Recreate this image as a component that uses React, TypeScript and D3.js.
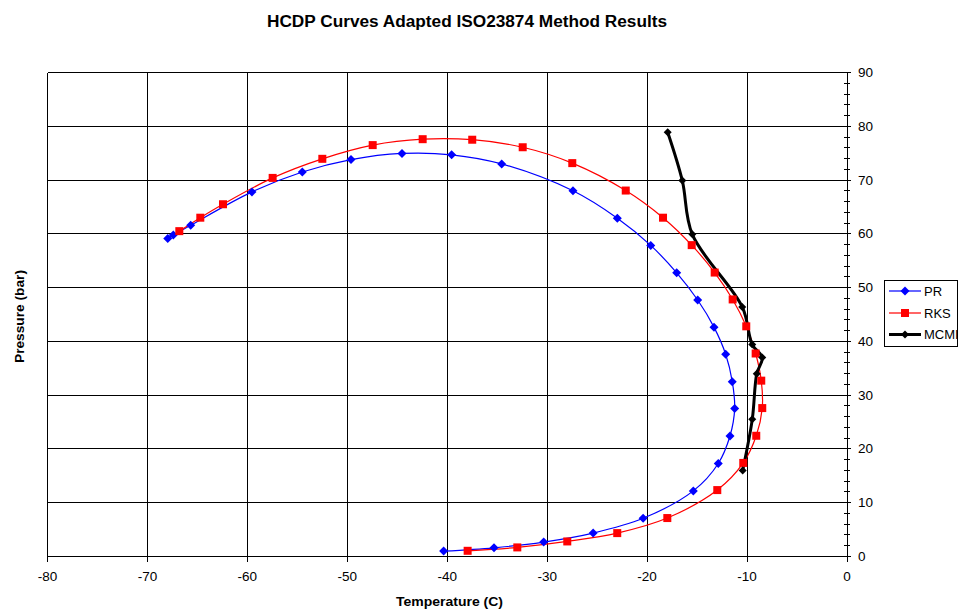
import React from "react";
import * as d3 from "d3";

const prT = [-67.97, -67.41, -65.67, -59.54, -54.5, -49.63, -44.53, -39.56, -34.55, -27.42, -22.98, -19.64, -17.04, -14.94, -13.31, -12.14, -11.48, -11.24, -11.71, -12.88, -15.38, -20.4, -25.4, -30.35, -35.32, -40.36];
const prP = [59.15, 59.76, 61.6, 67.8, 71.5, 73.8, 74.95, 74.7, 73.0, 68.0, 62.9, 57.85, 52.75, 47.7, 42.65, 37.6, 32.5, 27.5, 22.4, 17.3, 12.2, 7.1, 4.35, 2.68, 1.62, 1.0];

const rksT = [-66.81, -64.71, -62.44, -57.47, -52.5, -47.46, -42.46, -37.5, -32.45, -27.49, -22.14, -18.41, -15.54, -13.24, -11.44, -10.08, -9.14, -8.58, -8.48, -9.08, -10.38, -12.98, -17.98, -22.99, -27.99, -32.99, -37.96];
const rksP = [60.5, 63.0, 65.5, 70.4, 73.95, 76.5, 77.6, 77.5, 76.1, 73.15, 68.05, 63.0, 57.9, 52.8, 47.8, 42.8, 37.75, 32.7, 27.6, 22.45, 17.4, 12.35, 7.15, 4.35, 2.8, 1.69, 1.06];

const mcmiT = [-17.94, -16.48, -15.48, -10.48, -9.48, -8.48, -9.03, -9.48, -10.44];
const mcmiP = [78.9, 69.9, 59.9, 46.4, 39.4, 37.0, 34.0, 25.5, 16.0];

const xTicks = [-80, -70, -60, -50, -40, -30, -20, -10, 0];
const yTicks = [0, 10, 20, 30, 40, 50, 60, 70, 80, 90];
const yMinor = d3.range(0, 91, 2);

const L = 47.5, R = 847, T = 72.5, B = 556.5;
const FONT = "Arial, 'Liberation Sans', Helvetica, sans-serif";

export default function App() {
  const x = d3.scaleLinear().domain([-80, 0]).range([L, R]);
  const y = d3.scaleLinear().domain([0, 90]).range([B, T]);
  const mk = (ts: number[], ps: number[]) => ts.map((t, i) => [t, ps[i]] as [number, number]);
  const line = d3
    .line<[number, number]>()
    .x((d) => x(d[0]))
    .y((d) => y(d[1]))
    .curve(d3.curveCatmullRom.alpha(0.5));
  const pr = mk(prT, prP);
  const rks = mk(rksT, rksP);
  const mcmi = mk(mcmiT, mcmiP);
  const diamond = (cx: number, cy: number, r: number) =>
    `M${cx},${cy - r}L${cx + r},${cy}L${cx},${cy + r}L${cx - r},${cy}Z`;

  return (
    <svg width={960} height={609} style={{ position: "absolute", left: 0, top: 0, background: "#fff" }}>
      <rect x={0} y={0} width={960} height={609} fill="#fff" />
      <text x={467} y={26.5} textAnchor="middle" fontFamily={FONT} fontWeight="bold" fontSize={16} textLength={400} lengthAdjust="spacingAndGlyphs">
        HCDP Curves Adapted ISO23874 Method Results
      </text>
      {/* grid */}
      <g stroke="#000" strokeWidth={1} shapeRendering="crispEdges">
        {xTicks.map((t) => (
          <line key={"gx" + t} x1={x(t)} x2={x(t)} y1={T} y2={B} />
        ))}
        {yTicks.map((t) => (
          <line key={"gy" + t} x1={L} x2={R} y1={y(t)} y2={y(t)} />
        ))}
        {xTicks.map((t) => (
          <line key={"tx" + t} x1={x(t)} x2={x(t)} y1={B} y2={B + 5} />
        ))}
        {yMinor.map((t) => (
          <line key={"ty" + t} x1={R - 3} x2={t % 10 === 0 ? R + 4 : R + 3} y1={y(t)} y2={y(t)} />
        ))}
      </g>
      {/* x tick labels */}
      {xTicks.map((t) => (
        <text key={"lx" + t} x={x(t)} y={581} textAnchor="middle" fontFamily={FONT} fontSize={13.5}>
          {t}
        </text>
      ))}
      {yTicks.map((t) => (
        <text key={"ly" + t} x={858} y={y(t) + 4.5} textAnchor="start" fontFamily={FONT} fontSize={13.5}>
          {t}
        </text>
      ))}
      <text x={449.5} y={606} textAnchor="middle" fontFamily={FONT} fontWeight="bold" fontSize={12.5} textLength={107} lengthAdjust="spacingAndGlyphs">
        Temperature (C)
      </text>
      <text
        transform={`translate(23.5,316.5) rotate(-90)`}
        textAnchor="middle"
        fontFamily={FONT}
        fontWeight="bold"
        fontSize={12.5}
        textLength={93}
        lengthAdjust="spacingAndGlyphs"
      >
        Pressure (bar)
      </text>
      {/* series */}
      <path d={line(pr) || ""} fill="none" stroke="#0000ff" strokeWidth={1.2} />
      <path d={line(rks) || ""} fill="none" stroke="#ff0000" strokeWidth={1.2} />
      <path d={line(mcmi) || ""} fill="none" stroke="#000" strokeWidth={3} strokeLinejoin="round" />
      {pr.map((d, i) => (
        <path key={"pm" + i} d={diamond(x(d[0]), y(d[1]), 4.5)} fill="#0000ff" />
      ))}
      {rks.map((d, i) => (
        <rect key={"rm" + i} x={x(d[0]) - 4} y={y(d[1]) - 4} width={8} height={8} fill="#ff0000" />
      ))}
      {mcmi.map((d, i) => (
        <path key={"mm" + i} d={diamond(x(d[0]), y(d[1]), 4)} fill="#000" />
      ))}
      {/* legend */}
      <g>
        <rect x={884.5} y={280.5} width={73} height={66} fill="#fff" stroke="#000" strokeWidth={1} />
        <line x1={889} x2={921} y1={291} y2={291} stroke="#0000ff" strokeWidth={1.2} />
        <path d={diamond(905, 291, 4.5)} fill="#0000ff" />
        <text x={924} y={295.5} fontFamily={FONT} fontSize={13}>PR</text>
        <line x1={889} x2={921} y1={313} y2={313} stroke="#ff0000" strokeWidth={1.2} />
        <rect x={901} y={309} width={8} height={8} fill="#ff0000" />
        <text x={924} y={317.5} fontFamily={FONT} fontSize={13}>RKS</text>
        <line x1={889} x2={921} y1={334.5} y2={334.5} stroke="#000" strokeWidth={3} />
        <path d={diamond(905, 334.5, 4)} fill="#000" />
        <text x={924} y={339} fontFamily={FONT} fontSize={13}>MCMI</text>
      </g>
    </svg>
  );
}
